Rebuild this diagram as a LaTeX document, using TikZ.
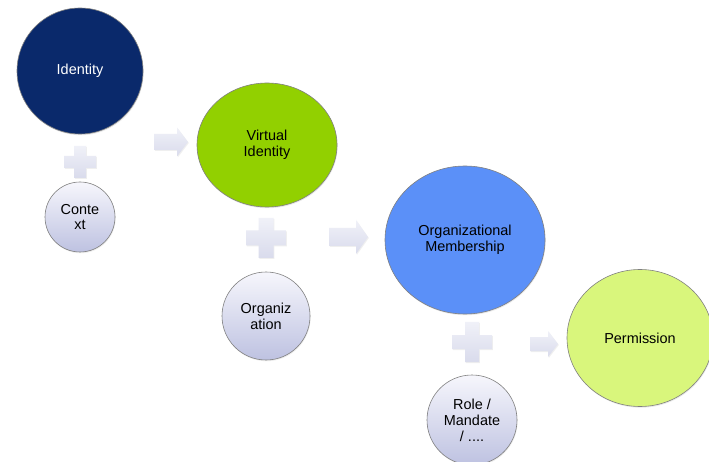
\documentclass[tikz,border=0pt]{standalone}
\usepackage{fontspec}
\setmainfont{Liberation Sans}
\usetikzlibrary{shapes.geometric,shadows}
\definecolor{navy}{HTML}{0A296B}
\definecolor{limegreen}{HTML}{92D000}
\definecolor{skyblue}{HTML}{5B90F8}
\definecolor{paleyellow}{HTML}{D9F67C}
\definecolor{lavtop}{HTML}{F6F6FC}
\definecolor{lavbot}{HTML}{BEC2E1}
\definecolor{signtop}{HTML}{F0F1F8}
\definecolor{signbot}{HTML}{D9DBEC}
\definecolor{rim}{HTML}{808080}

\tikzset{
  bigstate/.style={ellipse,draw=rim,line width=0.6pt,inner sep=0pt,align=center,
    font=\fontsize{14.5}{16}\selectfont,
    drop shadow={opacity=0.18,shadow xshift=0.6bp,shadow yshift=-1.2bp}},
  addon/.style={circle,draw=rim,line width=0.6pt,inner sep=0pt,align=center,
    top color=lavtop,bottom color=lavbot,font=\fontsize{14.5}{16}\selectfont,
    drop shadow={opacity=0.15,shadow xshift=0.6bp,shadow yshift=-1.2bp}},
  signshape/.style={draw=none,top color=signtop,bottom color=signbot,
    drop shadow={opacity=0.12,shadow xshift=0.8bp,shadow yshift=-1bp}}
}
% plus sign: centre x, centre y, half size, half arm width
\newcommand{\plusat}[4]{%
  \path[signshape] (#1-#4,#2-#3) -- (#1+#4,#2-#3) -- (#1+#4,#2-#4) -- (#1+#3,#2-#4)
    -- (#1+#3,#2+#4) -- (#1+#4,#2+#4) -- (#1+#4,#2+#3) -- (#1-#4,#2+#3)
    -- (#1-#4,#2+#4) -- (#1-#3,#2+#4) -- (#1-#3,#2-#4) -- (#1-#4,#2-#4) -- cycle;}
% block arrow: left x, centre y, length, head length, half head width, half shaft width
\newcommand{\arrowat}[6]{%
  \path[signshape] (#1,#2-#6) -- (#1+#3-#4,#2-#6) -- (#1+#3-#4,#2-#5) -- (#1+#3,#2)
    -- (#1+#3-#4,#2+#5) -- (#1+#3-#4,#2+#6) -- (#1,#2+#6) -- cycle;}

\begin{document}
\begin{tikzpicture}[x=1bp,y=-1bp]
\clip (0,0) rectangle (709,462);
\fill[white] (0,0) rectangle (709,462);

% main chain
\node[bigstate,fill=navy,text=white,minimum width=126bp,minimum height=126bp] (idt) at (80,71) {Identity};
\node[bigstate,fill=limegreen,minimum width=140bp,minimum height=124bp] (vid) at (267,145) {Virtual\\Identity};
\node[bigstate,fill=skyblue,minimum width=160bp,minimum height=148bp] (mem) at (465,240) {Organizational\\Membership};
\node[bigstate,fill=paleyellow,minimum width=146bp,minimum height=137bp] (perm) at (640,338) {Permission};

% what gets added at each step
\node[addon,minimum size=70bp] (ctx) at (80,217) {Conte\\xt};
\node[addon,minimum size=88bp] (orga) at (266,316) {Organiz\\ation};
\node[addon,minimum size=90bp] (role) at (472,420) {Role /\\Mandate\\/ ....};

\plusat{80}{162}{16}{6}
\plusat{266}{238}{20}{7.5}
\plusat{472}{342}{20}{7}

\arrowat{154}{142}{34}{11}{14.5}{8}
\arrowat{329}{237}{39}{12}{17}{9}
\arrowat{530}{344}{28}{10}{13}{7}
\end{tikzpicture}
\end{document}
